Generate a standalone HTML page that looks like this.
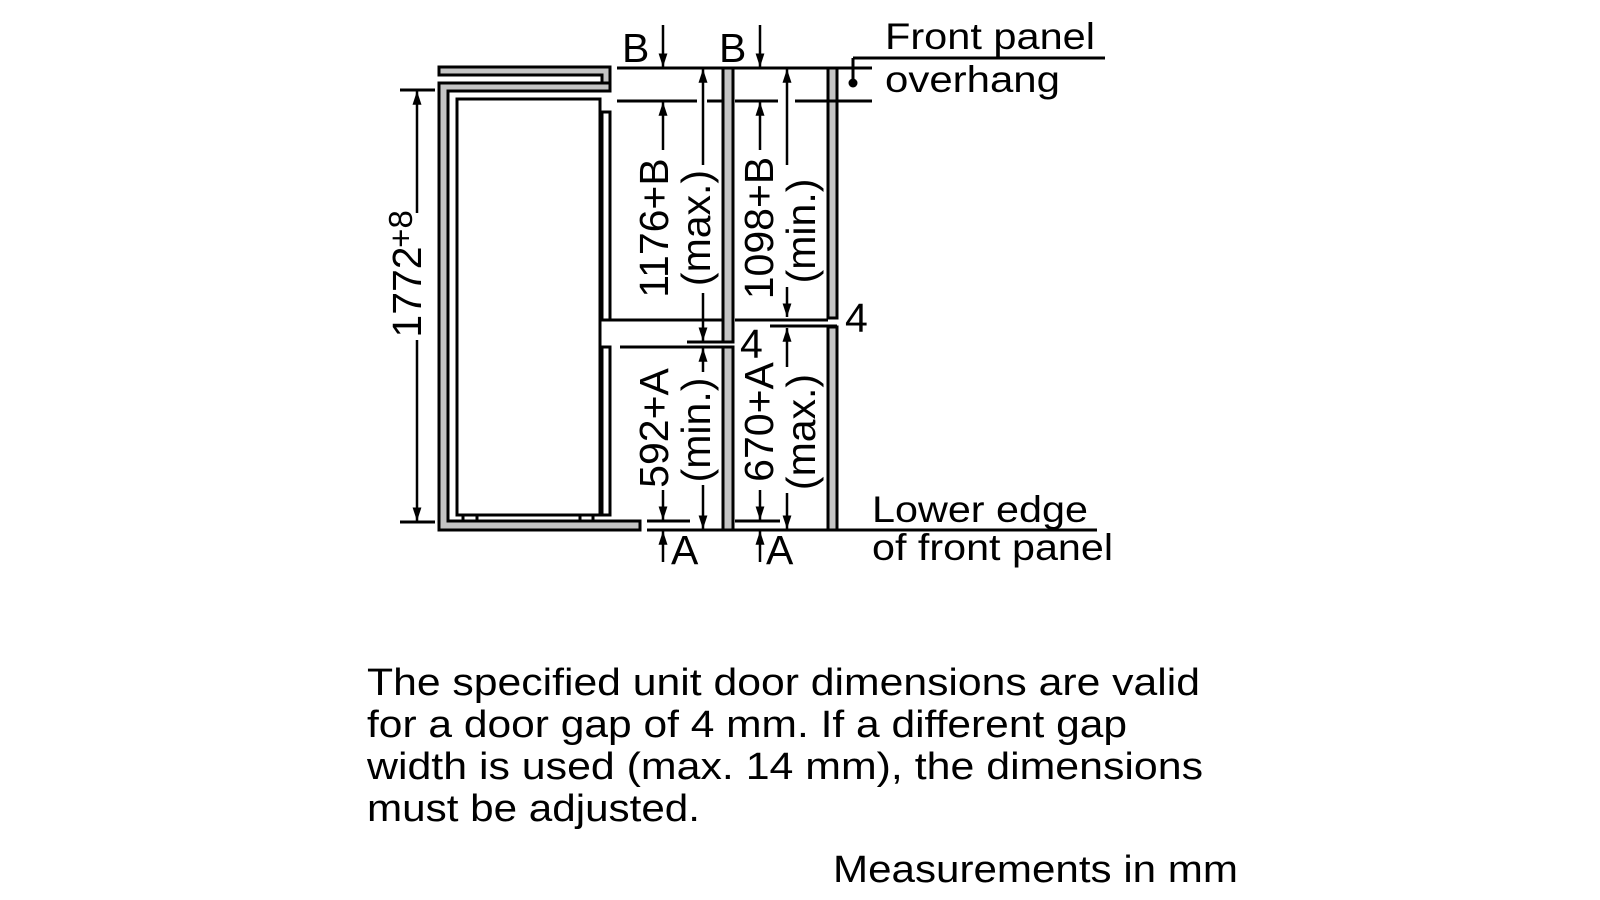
<!DOCTYPE html>
<html><head><meta charset="utf-8"><style>
html,body{margin:0;padding:0;background:#fff}
svg{display:block}
text{font-family:"Liberation Sans",Arial,sans-serif;fill:#000}
</style></head><body>
<svg width="1600" height="900" viewBox="0 0 1600 900" xmlns="http://www.w3.org/2000/svg">
<defs>
<marker id="ah" viewBox="0 0 10 10" refX="10" refY="5" markerWidth="5.5" markerHeight="3.6" markerUnits="strokeWidth" orient="auto" preserveAspectRatio="none">
<path d="M0,0 L10,5 L0,10 z" fill="#000"/></marker>
</defs>
<g stroke="#000" stroke-width="3" fill="none">
<path d="M439,67 L610,67 L610,83 L602,83 L602,75 L439,75 Z" fill="#c4c4c4"/>
<path d="M439,83 L610,83 L610,91 L448,91 L448,521 L640,521 L640,530 L439,530 Z" fill="#c4c4c4"/>
<rect x="457" y="99" width="143" height="416" fill="#fff"/>
<rect x="463" y="515" width="14" height="6" fill="#fff"/>
<rect x="580" y="515" width="13" height="6" fill="#fff"/>
<rect x="602" y="112" width="8" height="208" fill="#fff"/>
<rect x="602" y="347" width="8" height="168" fill="#fff"/>
<rect x="723" y="68" width="10" height="274" fill="#c4c4c4"/>
<rect x="723" y="347" width="10" height="183" fill="#c4c4c4"/>
<rect x="828" y="68" width="9" height="250" fill="#c4c4c4"/>
<rect x="828" y="327" width="9" height="203" fill="#c4c4c4"/>
<line x1="617" y1="68" x2="872" y2="68"/>
<line x1="617" y1="101" x2="697" y2="101"/>
<line x1="707" y1="101" x2="723" y2="101"/>
<line x1="735" y1="101" x2="778" y2="101"/>
<line x1="795" y1="101" x2="872" y2="101"/>
<line x1="610" y1="320" x2="722" y2="320"/>
<line x1="735" y1="320" x2="828" y2="320"/>
<line x1="770" y1="326" x2="837" y2="326"/>
<line x1="687" y1="342" x2="733" y2="342"/>
<line x1="620" y1="347" x2="723" y2="347"/>
<line x1="647" y1="521" x2="690" y2="521"/>
<line x1="735" y1="521" x2="780" y2="521"/>
<line x1="647" y1="530" x2="1097" y2="530"/>
<line x1="400" y1="90" x2="435" y2="90"/>
<line x1="400" y1="522" x2="435" y2="522"/>
<line x1="853" y1="58" x2="1105" y2="58"/>
<line x1="853" y1="58" x2="853" y2="82"/>
</g>
<circle cx="853" cy="83" r="4.5" fill="#000"/>
<g stroke="#000" stroke-width="2.5" marker-end="url(#ah)">
<line x1="663" y1="25" x2="663" y2="67"/>
<line x1="760" y1="25" x2="760" y2="67"/>
<line x1="663" y1="150" x2="663" y2="102"/>
<line x1="760" y1="150" x2="760" y2="102"/>
<line x1="703" y1="165" x2="703" y2="69"/>
<line x1="787" y1="165" x2="787" y2="69"/>
<line x1="703" y1="293" x2="703" y2="341"/>
<line x1="787" y1="287" x2="787" y2="317"/>
<line x1="663" y1="490" x2="663" y2="520"/>
<line x1="760" y1="490" x2="760" y2="520"/>
<line x1="663" y1="562" x2="663" y2="531"/>
<line x1="760" y1="562" x2="760" y2="531"/>
<line x1="703" y1="372" x2="703" y2="348"/>
<line x1="703" y1="485" x2="703" y2="529"/>
<line x1="787" y1="367" x2="787" y2="328"/>
<line x1="787" y1="493" x2="787" y2="529"/>
<line x1="417" y1="213" x2="417" y2="91"/>
<line x1="417" y1="340" x2="417" y2="521"/>
</g>
<g font-size="41">
<text x="622" y="62">B</text>
<text x="719" y="62">B</text>
<text x="671" y="564">A</text>
<text x="766" y="564">A</text>
<text x="740" y="358">4</text>
<text x="845" y="332">4</text>
</g>
<g font-size="41" text-anchor="middle">
<text transform="translate(668,228) rotate(-90)">1176+B</text>
<text transform="translate(710,228) rotate(-90)">(max.)</text>
<text transform="translate(773,228) rotate(-90)">1098+B</text>
<text transform="translate(815,231) rotate(-90)">(min.)</text>
<text transform="translate(668,428) rotate(-90)">592+A</text>
<text transform="translate(710,430) rotate(-90)">(min.)</text>
<text transform="translate(773,422) rotate(-90)">670+A</text>
<text transform="translate(815,432) rotate(-90)">(max.)</text>
<text transform="translate(421,292) rotate(-90)" font-size="41">1772</text>
<text transform="translate(412,229) rotate(-90)" font-size="33">+8</text>
</g>
<g font-size="37">
<text x="885" y="49" textLength="210" lengthAdjust="spacingAndGlyphs">Front panel</text>
<text x="885" y="92" textLength="175" lengthAdjust="spacingAndGlyphs">overhang</text>
<text x="872" y="522" textLength="216" lengthAdjust="spacingAndGlyphs">Lower edge</text>
<text x="872" y="560" textLength="241" lengthAdjust="spacingAndGlyphs">of front panel</text>
</g>
<g font-size="38">
<text x="367" y="695" textLength="833" lengthAdjust="spacingAndGlyphs">The specified unit door dimensions are valid</text>
<text x="367" y="737" textLength="760" lengthAdjust="spacingAndGlyphs">for a door gap of 4 mm. If a different gap</text>
<text x="367" y="779" textLength="836" lengthAdjust="spacingAndGlyphs">width is used (max. 14 mm), the dimensions</text>
<text x="367" y="821" textLength="333" lengthAdjust="spacingAndGlyphs">must be adjusted.</text>
<text x="833" y="882" textLength="405" lengthAdjust="spacingAndGlyphs">Measurements in mm</text>
</g>
</svg>
</body></html>
